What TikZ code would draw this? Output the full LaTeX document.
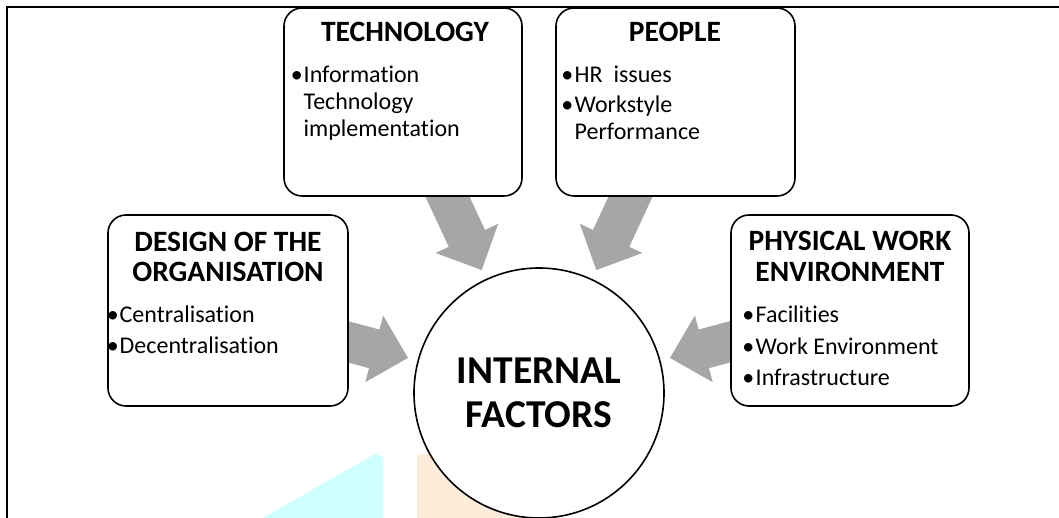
\documentclass[tikz,border=0pt]{standalone}
\usepackage{fontspec}
\setmainfont{Carlito}[Ligatures=NoCommon]
\usetikzlibrary{calc}
\pgfdeclarelayer{bg}
\pgfsetlayers{bg,main}
\definecolor{arrowgray}{RGB}{166,166,166}
\definecolor{wmcyan}{RGB}{208,255,255}
\definecolor{wmpeach}{RGB}{253,236,218}
\tikzset{
  card/.style={draw=black, line width=1.6pt, rounded corners=18pt, fill=white, inner sep=0pt, rectangle},
  hub/.style={draw=black, line width=1.6pt, fill=white, circle, inner sep=0pt, minimum size=250pt},
  title/.style={font=\bfseries\fontsize{29.5}{29.5}\selectfont, anchor=base, inner sep=0pt},
  hubtext/.style={font=\bfseries\fontsize{39.5}{39.5}\selectfont, anchor=base, inner sep=0pt},
  item/.style={font=\fontsize{24}{27}\selectfont, anchor=base west, inner sep=0pt},
  dot/.style={font=\fontsize{24}{27}\selectfont, anchor=base east, inner sep=0pt},
  frame/.style={draw=black, line width=2pt},
}
\newcommand\radarrow[1]{%
  \fill[arrowgray] ($(ic.center)+(#1:135.6)$)
    -- ($(ic.center)+(#1:170.6)+(#1+90:34.5)$)
    -- ($(ic.center)+(#1:170.6)+(#1+90:20)$)
    -- ($(ic.center)+(#1:245)+(#1+90:20)$)
    -- ($(ic.center)+(#1:245)+(#1-90:20)$)
    -- ($(ic.center)+(#1:170.6)+(#1-90:20)$)
    -- ($(ic.center)+(#1:170.6)+(#1-90:34.5)$) -- cycle;}
\begin{document}
\begin{tikzpicture}[x=1pt,y=-1pt]
\useasboundingbox (0,0) rectangle (1059,518);
% boxes
\node[card, minimum width=238pt, minimum height=188pt] (tech) at (403,102) {};
\node[card, minimum width=239pt, minimum height=188pt] (people) at (675.5,102) {};
\node[card, minimum width=240pt, minimum height=191pt] (design) at (228,310.5) {};
\node[card, minimum width=238pt, minimum height=191pt] (phys) at (850,310.5) {};
\node[hub] (ic) at (539,393) {};
% background: watermark remnants and arrows
\begin{pgfonlayer}{bg}
  \fill[wmcyan] (263,518) -- (375,454) -- (383,457) -- (383,518) -- cycle;
  \fill[wmpeach] (417,518) -- (417,456) -- (419,454) -- (539,454) -- (539,518) -- cycle;
  \radarrow{195}
  \radarrow{245}
  \radarrow{295}
  \radarrow{345}
\end{pgfonlayer}
% frame
\coordinate (fbl) at (7,518);
\coordinate (ftl) at (7,7);
\coordinate (ftr) at (1059,7);
\draw[frame] (fbl) -- (ftl) -- (ftr);
% hub text
\node[hubtext] (ic1) at (539,383) {INTERNAL};
\node[hubtext] (ic2) at (539,427) {FACTORS};
% technology
\node[title] (techT) at (405,42) {TECHNOLOGY};
\node[dot] (techD) at (303,83) {•};
\node[item] (tech1) at (303.5,83) {Information};
\node[item] (tech2) at (303.5,110) {Technology};
\node[item] (tech3) at (303.5,137) {implementation};
% people
\node[title] (peoT) at (675,42) {PEOPLE};
\node[dot] (peoD1) at (573.5,83) {•};
\node[item] (peo1) at (574.5,83) {HR~~issues};
\node[dot] (peoD2) at (573.5,113) {•};
\node[item] (peo2) at (574.5,113) {Workstyle};
\node[item] (peo3) at (574.5,140) {Performance};
% design
\node[title] (desT1) at (228,252) {DESIGN OF THE};
\node[title] (desT2) at (228,282) {ORGANISATION};
\node[dot] (desD1) at (119,323) {•};
\node[item] (des1) at (119.5,323) {Centralisation};
\node[dot] (desD2) at (119,353) {•};
\node[item] (des2) at (119.5,353) {Decentralisation};
% physical
\node[title] (phyT1) at (850,251) {PHYSICAL WORK};
\node[title] (phyT2) at (850,282) {ENVIRONMENT};
\node[dot] (phyD1) at (754.5,323) {•};
\node[item] (phy1) at (755.5,323) {Facilities};
\node[dot] (phyD2) at (754.5,354) {•};
\node[item] (phy2) at (755.5,354) {Work Environment};
\node[dot] (phyD3) at (754.5,385) {•};
\node[item] (phy3) at (755.5,385) {Infrastructure};
\end{tikzpicture}
\end{document}
